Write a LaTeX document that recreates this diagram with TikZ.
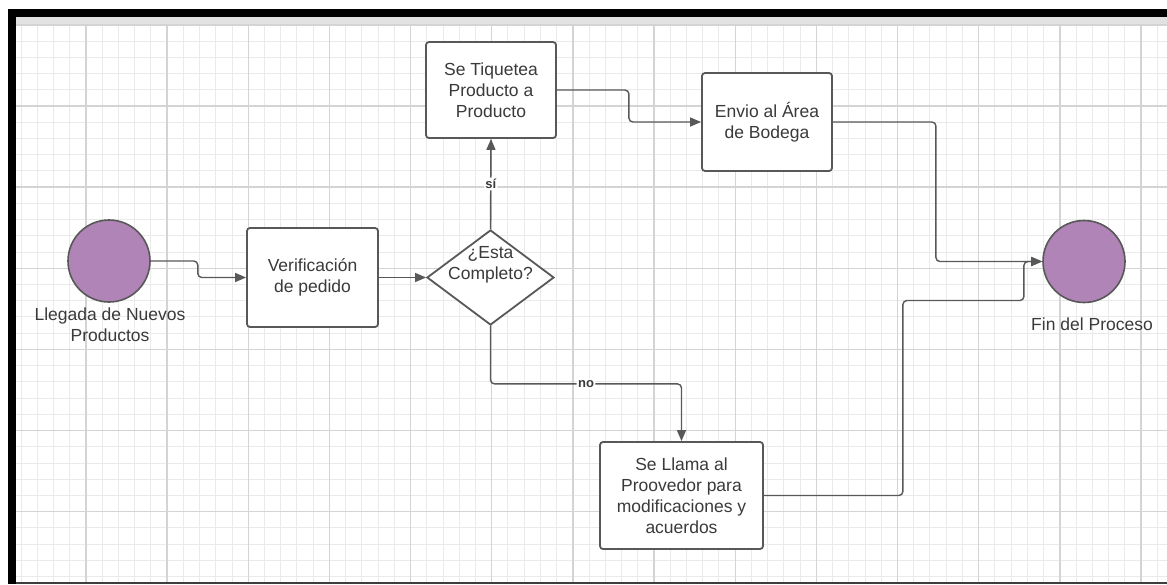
\documentclass[tikz,border=0pt]{standalone}
\usepackage{fontspec}
\setmainfont{Liberation Sans}
\usetikzlibrary{shapes.geometric,arrows.meta}
\definecolor{ink}{RGB}{88,88,88}
\definecolor{txt}{RGB}{58,58,58}
\definecolor{plum}{RGB}{176,132,182}
\definecolor{gridminor}{RGB}{234,234,234}
\definecolor{gridmajor}{RGB}{212,212,212}
\definecolor{strip}{RGB}{226,226,226}

\begin{document}
\begin{tikzpicture}[x=1pt,y=-1pt,
  proc/.style={draw=ink, line width=1.8pt, rounded corners=3pt, fill=white,
    inner sep=0pt, align=center, text=txt, font=\fontsize{17.5}{21}\selectfont},
  term/.style={circle, draw=ink, line width=1.6pt, fill=plum, minimum size=82pt, inner sep=0pt},
  decide/.style={diamond, draw=ink, line width=1.8pt, fill=white, inner sep=0pt,
    minimum width=127pt, minimum height=95pt},
  lbl/.style={text=txt, font=\fontsize{17.5}{21}\selectfont, align=center, inner sep=0pt},
  conn/.style={draw=ink, line width=1.4pt, rounded corners=4pt,
    -{Triangle[length=11pt,width=9pt]}},
  edgelbl/.style={fill=white, text=txt, font=\bfseries\fontsize{13}{15}\selectfont, inner sep=1.5pt}]

% page, frame and canvas
\useasboundingbox (0,0) rectangle (1167,584);
\fill[white] (0,0) rectangle (1167,584);
\fill[black] (8,9) rectangle (1167,16.5);
\fill[black] (8,9) rectangle (16,584);
\fill[strip] (16,16.5) rectangle (1167,24);
\fill[ink!70!black] (16,582) rectangle (1167,584);

% grid paper
\begin{scope}
  \clip (16,24) rectangle (1167,582);
  \foreach \i in {-5,...,67} {
    \draw[gridminor, line width=1pt] ({86+16.23*\i},24) -- ({86+16.23*\i},582);
  }
  \foreach \j in {-5,...,30} {
    \draw[gridminor, line width=1pt] (16,{106+16.23*\j}) -- (1167,{106+16.23*\j});
  }
  \foreach \i in {-1,...,14} {
    \draw[gridmajor, line width=1.4pt] ({86+81.15*\i},24) -- ({86+81.15*\i},582);
  }
  \foreach \j in {-1,...,6} {
    \draw[gridmajor, line width=1.4pt] (16,{106+81.15*\j}) -- (1167,{106+81.15*\j});
  }
\end{scope}

% shapes
\node[term] (start) at (109,261) {};
\node[lbl] (startlbl) at (110,325) {Llegada de Nuevos\\Productos};

\node[proc, minimum width=131pt, minimum height=99pt] (verif) at (312.5,277.5)
  {Verificación\\de pedido};

\node[decide] (diam) at (490.5,277.5) {};
\node[lbl] (diamlbl) at (490.5,265) {¿Esta\\Completo?};

\node[proc, minimum width=130pt, minimum height=96pt] (tiq) at (491,90)
  {Se Tiquetea\\Producto a\\Producto};

\node[proc, minimum width=130pt, minimum height=98pt] (envio) at (767,122)
  {Envio al Área\\de Bodega};

\node[proc, minimum width=163pt, minimum height=107pt] (llama) at (681.5,495.5)
  {Se Llama al\\Proovedor para\\modificaciones y\\acuerdos};

\node[term] (end) at (1084,261.5) {};
\node[lbl] (endlbl) at (1092,324) {Fin del Proceso};

% connectors
\draw[conn] (start.east) -- ++(47,0) |- (verif.west);
\draw[conn] (verif.east) -- (diam.west);
\draw[conn] (diam.north) -- node[edgelbl, pos=0.5] {sí} (tiq.south);
\draw[conn] (tiq.east) -- ++(72,0) |- (envio.west);
\draw[conn] (envio.east) -- ++(103,0) |- (end.west);
\draw[conn] (diam.south) -- ++(0,58) -| node[edgelbl, pos=0.25] {no} (llama.north);
\draw[conn] (llama.east) -- ++(139,0) -- ++(0,-195) -- ++(121,0) |- (end.west);
\end{tikzpicture}
\end{document}
